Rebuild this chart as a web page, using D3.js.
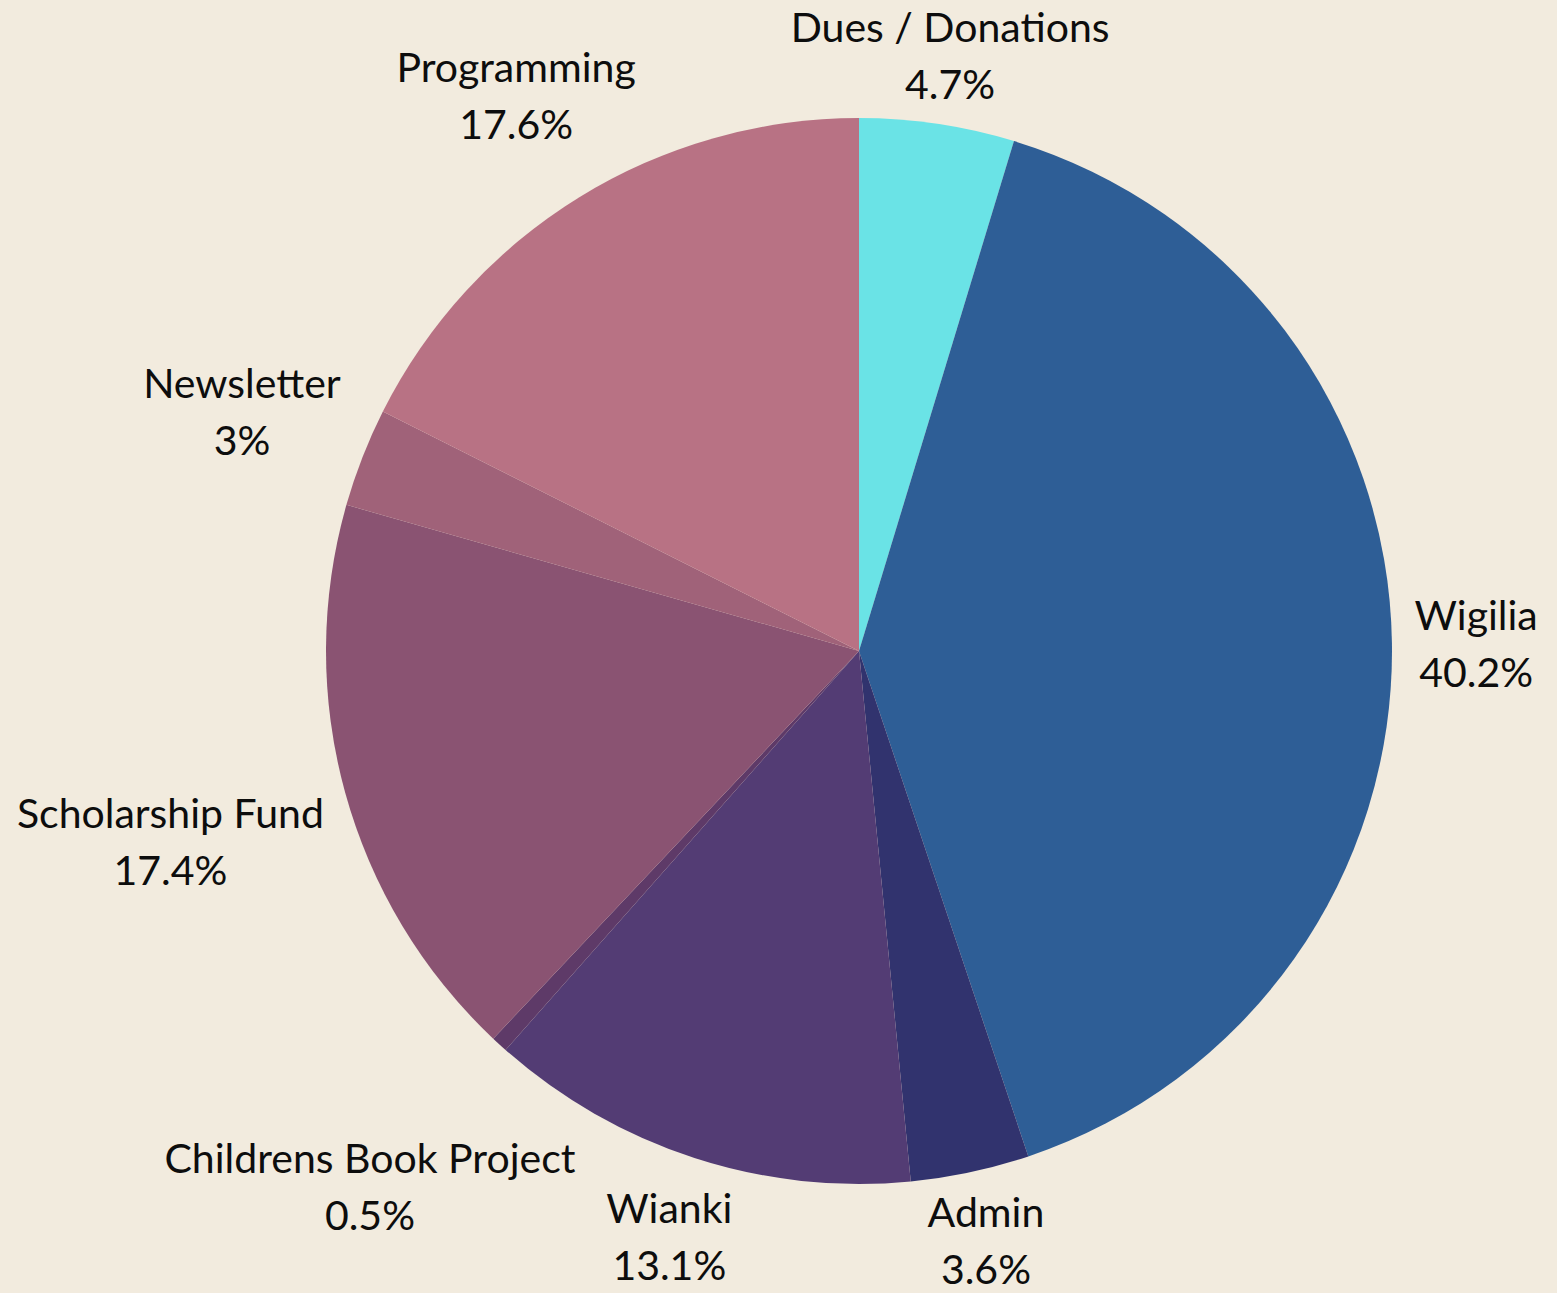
<!DOCTYPE html>
<html>
<head>
<meta charset="utf-8">
<script src="https://cdn.jsdelivr.net/npm/d3@7"></script>
<style>
  html, body { margin: 0; padding: 0; background: #f2ebde; overflow: hidden; }
  svg { display: block; }
  .slice-label { font-family: Lato, "Open Sans", sans-serif; font-size: 41px; fill: #0d0d0d; }
</style>
</head>
<body>
<div id="chart"></div>
<script>
const categories = ["Dues / Donations", "Wigilia", "Admin", "Wianki", "Childrens Book Project",
  "Scholarship Fund", "Newsletter", "Programming"];
const shares = [4.7, 40.2, 3.6, 13.1, 0.5, 17.4, 3, 17.6];
const colours = ["#6ae3e6", "#2e5e96", "#31336e", "#533c74", "#5e3a68", "#8a5372", "#a06279", "#b87284"];

const width = 1557, height = 1293;
const cx = 859, cy = 651, radius = 533;
const gap = 22, halfHeight = 42, lineGap = 57;
const edgeLimit = 54; // keep labels inside the frame top and bottom

const svg = d3.select("#chart").append("svg")
  .attr("width", width).attr("height", height);

svg.append("rect").attr("width", width).attr("height", height).attr("fill", "#f2ebde");

const g = svg.append("g").attr("transform", `translate(${cx},${cy})`);

const pie = d3.pie().sort(null).value(d => d.value);
const arcs = pie(categories.map((c, i) => ({ name: c, value: shares[i], colour: colours[i] })));

const arc = d3.arc().innerRadius(0).outerRadius(radius);

g.selectAll("path.slice")
  .data(arcs)
  .enter()
  .append("path")
  .attr("class", "slice")
  .attr("d", arc)
  .attr("fill", d => d.data.colour);

// labels sit just outside the rim, pushed out by their own box size
const labels = g.selectAll("text.slice-label")
  .data(arcs)
  .enter()
  .append("text")
  .attr("class", "slice-label")
  .attr("text-anchor", "middle")
  .attr("dominant-baseline", "central");

labels.append("tspan").attr("x", 0).attr("y", -lineGap / 2).text(d => d.data.name);
labels.append("tspan").attr("x", 0).attr("y", lineGap / 2).text(d => `${d.data.value}%`);

labels.each(function(d) {
  const box = this.getBBox();
  const mid = (d.startAngle + d.endAngle) / 2;
  const ux = Math.sin(mid), uy = -Math.cos(mid);
  const push = Math.abs(ux) * box.width / 2 + Math.abs(uy) * halfHeight;
  const r = radius + gap + push;
  const x = ux * r;
  const y = Math.min(Math.max(uy * r, edgeLimit - cy), height - edgeLimit - cy);
  d3.select(this).attr("transform", `translate(${x},${y})`);
});
</script>
</body>
</html>
